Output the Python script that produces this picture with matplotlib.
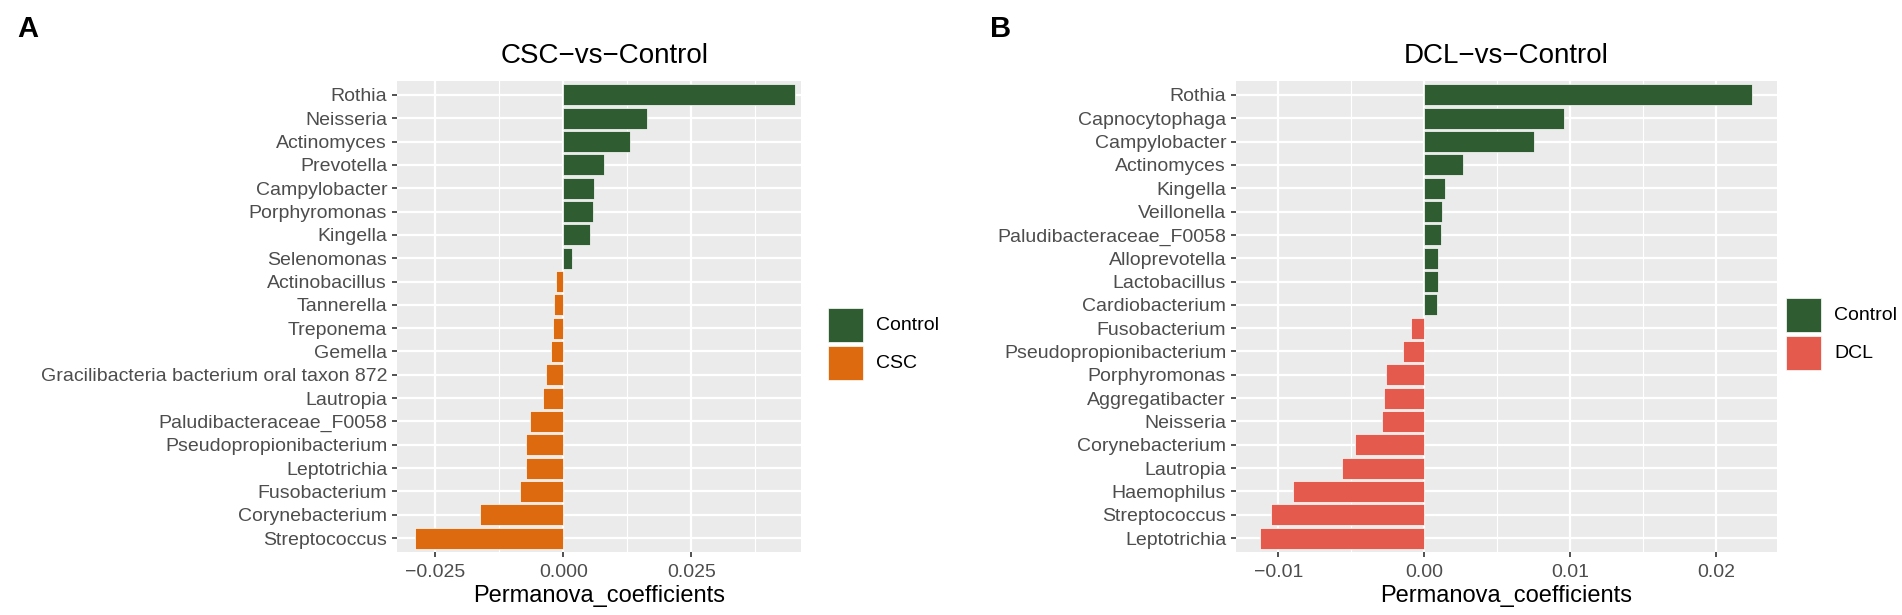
import matplotlib
matplotlib.use("Agg")
import matplotlib.pyplot as plt
from matplotlib.patches import Rectangle
import numpy as np

plt.rcParams['font.family'] = ['Liberation Sans', 'DejaVu Sans']

# panel A: CSC vs Control
csc_taxa = ["Rothia", "Neisseria", "Actinomyces", "Prevotella", "Campylobacter",
            "Porphyromonas", "Kingella", "Selenomonas", "Actinobacillus", "Tannerella",
            "Treponema", "Gemella", "Gracilibacteria bacterium oral taxon 872", "Lautropia",
            "Paludibacteraceae_F0058", "Pseudopropionibacterium", "Leptotrichia",
            "Fusobacterium", "Corynebacterium", "Streptococcus"]
csc_coef = [0.0452, 0.0164, 0.0130, 0.0080, 0.0060,
            0.0057, 0.0051, 0.0017, -0.0015, -0.0019,
            -0.0021, -0.0024, -0.0034, -0.0039,
            -0.0066, -0.0073, -0.0074,
            -0.0085, -0.0163, -0.0289]
csc_xlim = [-0.0325, 0.0464]
csc_ticks = [-0.025, 0.0, 0.025]
csc_ticklabels = ["\u22120.025", "0.000", "0.025"]
csc_minor = [-0.0125, 0.0125, 0.0375]

# panel B: DCL vs Control
dcl_taxa = ["Rothia", "Capnocytophaga", "Campylobacter", "Actinomyces", "Kingella",
            "Veillonella", "Paludibacteraceae_F0058", "Alloprevotella", "Lactobacillus",
            "Cardiobacterium", "Fusobacterium", "Pseudopropionibacterium", "Porphyromonas",
            "Aggregatibacter", "Neisseria", "Corynebacterium", "Lautropia", "Haemophilus",
            "Streptococcus", "Leptotrichia"]
dcl_coef = [0.02247, 0.0096, 0.00757, 0.0027, 0.00143,
            0.0012, 0.00117, 0.00097, 0.00093,
            0.0009, -0.00093, -0.00143, -0.00263,
            -0.00277, -0.0029, -0.00473, -0.00562, -0.00902,
            -0.01051, -0.01127]
dcl_xlim = [-0.0129, 0.0242]
dcl_ticks = [-0.01, 0.0, 0.01, 0.02]
dcl_ticklabels = ["\u22120.01", "0.00", "0.01", "0.02"]
dcl_minor = [-0.005, 0.005, 0.015]

green = "#2F5D31"
orange = "#DD6A0E"
red = "#E45B4D"

W, H = 1902, 615
fig = plt.figure(figsize=(W / 100, H / 100), dpi=100)


def px_box(x0, y0, x1, y1):
    return [x0 / W, (H - y1) / H, (x1 - x0) / W, (y1 - y0) / H]


def panel(ax, taxa, coef, neg_color, xlim, ticks, ticklabels, minor, title, title_x):
    n = len(taxa)
    y = np.arange(n)
    cols = [green if v > 0 else neg_color for v in coef]
    ax.set_facecolor("#EBEBEB")
    ax.barh(y, coef, height=0.9, color=cols, edgecolor="white", linewidth=0.5, zorder=3)
    ax.set_xlim(xlim)
    ax.set_ylim(n - 0.4, -0.6)
    ax.set_yticks(y)
    ax.set_yticklabels(taxa)
    ax.set_xticks(ticks)
    ax.set_xticklabels(ticklabels)
    ax.set_xticks(minor, minor=True)
    ax.grid(True, which="major", color="white", linewidth=1.6, zorder=0)
    ax.grid(True, which="minor", axis="x", color="white", linewidth=0.8, zorder=0)
    ax.set_axisbelow(True)
    for s in ax.spines.values():
        s.set_visible(False)
    ax.tick_params(axis="both", which="major", length=3.6, width=1.2, color="#333333",
                   labelsize=14, labelcolor="#4D4D4D", pad=3.5)
    ax.tick_params(axis="x", which="major", pad=5)
    ax.tick_params(axis="both", which="minor", length=0)
    ax.set_xlabel("Permanova_coefficients", fontsize=17, labelpad=3)
    ax.set_title(title, fontsize=20, pad=13, x=title_x)


ax1 = fig.add_axes(px_box(397, 81, 801, 552))
panel(ax1, csc_taxa, csc_coef, orange, csc_xlim, csc_ticks, csc_ticklabels, csc_minor,
      "CSC\u2212vs\u2212Control", 0.515)

ax2 = fig.add_axes(px_box(1236, 81, 1777, 552))
panel(ax2, dcl_taxa, dcl_coef, red, dcl_xlim, dcl_ticks, dcl_ticklabels, dcl_minor,
      "DCL\u2212vs\u2212Control", 0.5)


def legend(x0, y0, labels, colors):
    for i, (lab, c) in enumerate(zip(labels, colors)):
        top = y0 + i * 38
        r = Rectangle((x0 / W, (H - top - 34) / H), 35 / W, 34 / H,
                      transform=fig.transFigure, facecolor=c, edgecolor="white", linewidth=0.5)
        fig.patches.append(r)
        fig.text((x0 + 48) / W, (H - top - 17) / H, lab, fontsize=14, va="center", ha="left")


legend(828, 308, ["Control", "CSC"], [green, orange])
legend(1786, 298, ["Control", "DCL"], [green, red])

fig.text(17 / W, (H - 15) / H, "A", fontsize=21, fontweight="bold", va="top", ha="left")
fig.text(990 / W, (H - 15) / H, "B", fontsize=21, fontweight="bold", va="top", ha="left")

fig.savefig("out.png", dpi=100)
